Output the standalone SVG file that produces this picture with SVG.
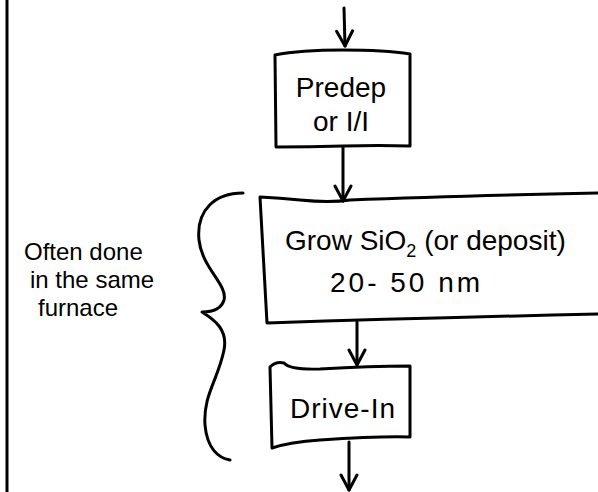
<svg xmlns="http://www.w3.org/2000/svg" width="598" height="492" viewBox="0 0 598 492">
<style>
.ln{fill:none;stroke:#000;stroke-width:3;stroke-linecap:round;stroke-linejoin:round}
.tx{font-family:"Liberation Sans","DejaVu Sans",sans-serif;font-size:28px;fill:#000}
.tl{font-family:"Liberation Sans","DejaVu Sans",sans-serif;font-size:24px;fill:#000}
</style>
<defs>
<marker id="arr" viewBox="0 0 20 20" refX="18" refY="10" markerWidth="20" markerHeight="20" markerUnits="userSpaceOnUse" orient="auto">
<path d="M3,2 L18,10 L3,18" fill="none" stroke="#000" stroke-width="3" stroke-linecap="round" stroke-linejoin="round"/>
</marker>
</defs>
<rect width="598" height="492" fill="#fff"/>
<line x1="7" y1="0" x2="7" y2="492" stroke="#000" stroke-width="3"/>
<g id="connectors">
<path class="ln" d="M344,8 L345,46" marker-end="url(#arr)"/>
<path class="ln" d="M343,147 L343,201" marker-end="url(#arr)"/>
<path class="ln" d="M357,322 L357,365" marker-end="url(#arr)"/>
<path class="ln" d="M349,442 L349,490" marker-end="url(#arr)"/>
</g>
<g id="predep">
<path class="ln" d="M275,55 Q300,50 343,50 Q385,50 410,54 L410,146 Q380,145 343,146 Q310,147 276,147 L275,55 Z"/>
<text class="tx" x="341" y="97" text-anchor="middle" font-size="30">Predep</text>
<text class="tx" x="341" y="131" text-anchor="middle">or I/I</text>
</g>
<g id="grow">
<path class="ln" d="M260,197 Q280,198 300,200 Q330,203 350,200 Q450,196 598,193 M260,197 L267,323 Q420,318 598,314"/>
<text class="tx" x="285" y="250">Grow SiO<tspan font-size="18" dy="7">2</tspan><tspan dy="-7"> (or deposit)</tspan></text>
<text class="tx" x="330" y="292" letter-spacing="3">20- 50 nm</text>
</g>
<g id="drivein">
<path class="ln" d="M270,367 Q276,361 284,363 Q290,370 320,369 Q370,366 410,366 L410,437 Q380,436 320,440 Q290,442 272,448 L270,367 Z"/>
<text class="tx" x="290" y="418" letter-spacing="1">Drive-In</text>
</g>
<g id="brace">
<path class="ln" d="M243,193 C215,193 196,210 199,240 C202,268 228,285 224,300 C221,310 212,312 202,312 C215,320 228,330 224,350 C218,380 203,395 205,425 C207,448 218,458 230,460"/>
</g>
<g id="note">
<text class="tl" x="24" y="260">Often done</text>
<text class="tl" x="30" y="288">in the same</text>
<text class="tl" x="38" y="316">furnace</text>
</g>
</svg>
